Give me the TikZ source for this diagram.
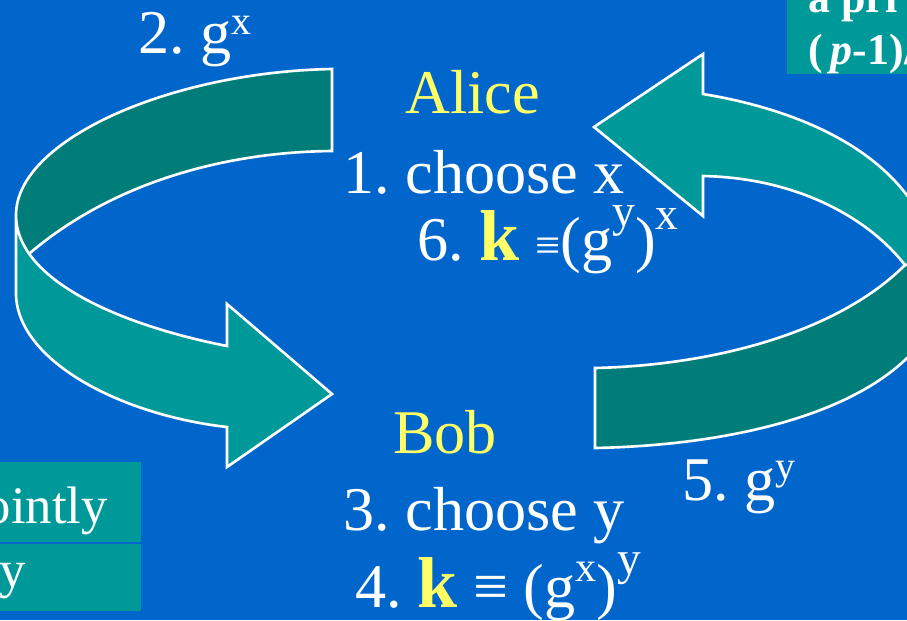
\documentclass[tikz,border=0pt]{standalone}
\usepackage{fontspec}
\setmainfont{Liberation Serif}
\usepackage{tikz}
\usetikzlibrary{positioning}
\definecolor{slideblue}{RGB}{0,102,204}
\definecolor{ribbonlight}{RGB}{0,153,153}
\definecolor{ribbondark}{RGB}{0,125,120}
\definecolor{partyyellow}{RGB}{255,255,102}

% raised small text: [raise]{size}{text}
\newcommand{\up}[3][0.32em]{\raisebox{#1}{\fontsize{#2}{#2}\selectfont #3}}
\newcommand{\keyk}{{\fontsize{41}{41}\selectfont\bfseries\color{partyyellow}k}}
\frenchspacing

\begin{document}
\begin{tikzpicture}[
    x=0.02cm, y=-0.02cm,
    msg/.style={
        text=white,
        inner sep=0pt,
        anchor=base west,
        font=\fontsize{35.4}{41}\selectfont
    },
    party/.style={msg, text=partyyellow},
    boxtext/.style={msg, font=\fontsize{30}{34}\selectfont},
    ribbon/.style={draw=white, line width=1.5pt}
]
\useasboundingbox (0,0) rectangle (907,620);
\clip (0,0) rectangle (907,620);
\fill[slideblue] (0,0) rectangle (907,620);

% left ribbon: back band, then front band with head
\fill[ribbondark] (332,69) .. controls (170,72) and (16,140) .. (16,215) -- (16,262) -- (30,253)
    .. controls (110,185) and (220,152) .. (332,151) -- cycle;
\draw[ribbon] (30,253) .. controls (110,185) and (220,152) .. (332,151) -- (332,69)
    .. controls (170,72) and (16,140) .. (16,215);
\filldraw[ribbon, fill=ribbonlight] (16,215) -- (16,293) .. controls (16,360) and (120,415) .. (227,427)
    -- (227,467) -- (332,394) -- (227,304) -- (227,346)
    .. controls (120,325) and (16,280) .. (16,215) -- cycle;

% right ribbon
\filldraw[ribbon, fill=ribbondark] (905,265) .. controls (840,330) and (720,365) .. (595,368)
    -- (595,448) .. controls (740,445) and (880,410) .. (930,330) -- (930,262) -- cycle;
\filldraw[ribbon, fill=ribbonlight] (703,94) .. controls (800,110) and (890,150) .. (925,225)
    -- (925,262) -- (905,265) .. controls (870,220) and (800,178) .. (703,176)
    -- (703,216) -- (594,127) -- (703,54) -- cycle;

% side panels
\fill[ribbonlight] (787,0) rectangle (907,74);
\node[msg, font=\fontsize{25}{30}\selectfont\bfseries] (prime) at (808,12) {a pri};
\node[msg, font=\fontsize{25}{30}\selectfont\bfseries] (order) at (808,64) {(\hspace{0.18em}\textit{p}-1)/};

\fill[ribbonlight] (0,462) rectangle (141,611);
\draw[slideblue, line width=0.6pt] (0,543) -- (141,543);
\node[boxtext] (jointly) at (-15.5,523) {ointly};
\node[boxtext] (cell) at (-1,587) {y};

% Alice side
\node[msg] (send1) at (138,53) {2. g\up[0.3em]{22.7}{x}};
\node[party] (alice) at (405,113) {Alice};
\node[msg] (pickx) at (343,193) {1. choose x};
\node[msg] (keya) at (417,260) {6. \keyk\ {\fontsize{25.5}{25}\selectfont ≡}(g\up[0.54em]{26}{y})\up[0.49em]{26}{x}};

% Bob side
\node[party] (bob) at (393,453) {Bob};
\node[msg] (picky) at (343,530) {3. choose y};
\node[msg] (keyb) at (355,607) {4. \keyk\ ≡ (g\up[0.41em]{24}{x})\up[0.52em]{27}{y}};
\node[msg] (send2) at (682,500) {5. g\up[0.33em]{22.7}{y}};
\end{tikzpicture}
\end{document}
